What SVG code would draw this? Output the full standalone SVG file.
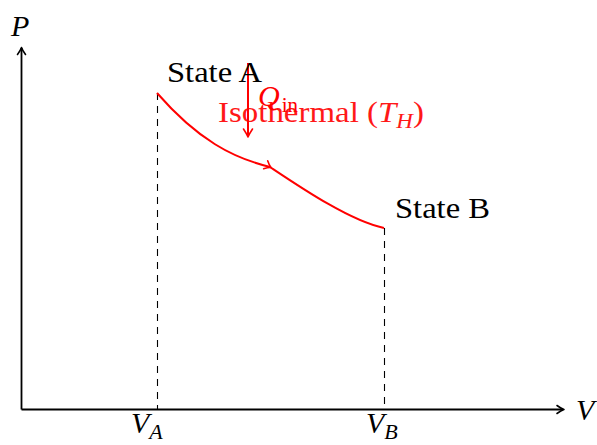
<svg xmlns="http://www.w3.org/2000/svg" width="597" height="445" viewBox="0 0 597 445">
<style>
.ax{stroke:#000;stroke-width:1.8;fill:none}
.dash{stroke:#000;stroke-width:1.1;stroke-dasharray:7 6;fill:none}
.red{stroke:#ff0000;stroke-width:2;fill:none}
.head{fill:none;stroke-width:1.6;stroke-linecap:round;stroke-linejoin:round}
.t{font-family:"Liberation Serif","DejaVu Serif",serif;font-size:30px;fill:#000}
.it{font-style:italic}
.r{fill:#ff0000}
</style>
<rect width="597" height="445" fill="#fff"/>
<g id="connectors">
  <path class="ax" d="M21.5,409.5 V48"/>
  <path class="head" stroke="#000" d="M17.5,54.5 Q20.5,50.5 21.5,47.5 Q22.5,50.5 25.5,54.5"/>
  <path class="ax" d="M21.5,409.5 H563"/>
  <path class="head" stroke="#000" d="M557,405.5 Q561,408.5 564,409.5 Q561,410.5 557,413.5"/>
  <path class="dash" d="M157.5,93 V409"/>
  <path class="dash" d="M384.5,228 V409"/>
  <path class="red" d="M157,93 C198,140 233,158 270,167"/>
  <path class="red" d="M270,167 C300,187 350,221 384,228"/>
  <path class="head" stroke="#ff0000" transform="translate(271,167.5) rotate(27)" d="M-6,-4.5 Q-2.5,-1 0,0 Q-2.5,1 -6,4.5"/>
  <path class="red" d="M248,63 V136"/>
  <path class="head" stroke="#ff0000" d="M243.5,129 Q246.5,133.5 248,137 Q249.5,133.5 252.5,129"/>
</g>
<g id="axis-labels">
  <text class="t it" x="11" y="36" font-size="29">P</text>
  <text class="t it" x="576" y="420" font-size="29">V</text>
  <text class="t" x="131" y="433" font-size="31"><tspan class="it">V</tspan><tspan class="it" font-size="22" dy="6">A</tspan></text>
  <text class="t" x="366" y="433" font-size="31"><tspan class="it">V</tspan><tspan class="it" font-size="22" dy="6">B</tspan></text>
</g>
<g id="stateA">
  <text class="t" x="167" y="82" textLength="95" lengthAdjust="spacingAndGlyphs">State A</text>
</g>
<g id="stateB">
  <text class="t" x="395" y="218" textLength="95" lengthAdjust="spacingAndGlyphs">State B</text>
</g>
<g id="qin">
  <text class="t r" x="258" y="106"><tspan class="it">Q</tspan><tspan font-size="21" dy="6" dx="2">in</tspan></text>
</g>
<g id="isothermal-label">
  <text class="t r" x="218" y="122" font-size="30" textLength="206" lengthAdjust="spacingAndGlyphs" opacity="0.9">Isothermal (<tspan class="it">T</tspan><tspan class="it" font-size="21" dy="6">H</tspan><tspan dy="-6">)</tspan></text>
</g>
</svg>
